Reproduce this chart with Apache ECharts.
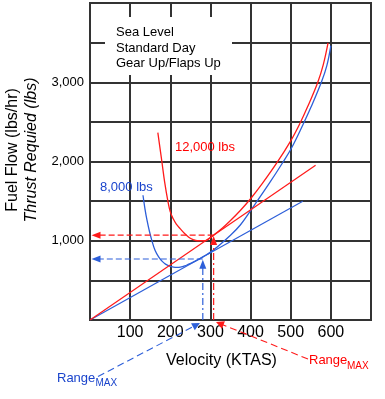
<!DOCTYPE html>
<html><head><meta charset="utf-8">
<script src="https://cdn.jsdelivr.net/npm/echarts@6/dist/echarts.min.js"></script>
<style>html,body{margin:0;padding:0;background:#fff}#c{width:385px;height:399px}</style>
</head><body><div id="c"></div>
<script>
const FONT = '"Liberation Sans", Arial, Helvetica, sans-serif';
// [velocity KTAS, fuel flow / thrust required]
const thrust8000 = [[132,1574],[137,1400],[142,1259],[148,1120],[154,1005],[162,880],[171,797],[180,740],[188,705],[198,680],[208,668],[217,665],[225,668],[236,683],[246,705],[257,730],[267,756],[281,797],[304,869],[350,1070],[375,1202],[400,1380],[446,1720],[481,1994],[502,2170],[531,2470],[550,2680],[577,3010],[590,3210],[600,3463]];
const thrust12000 = [[169,2364],[179,2000],[186,1740],[194,1500],[200,1364],[207,1280],[215,1210],[225,1150],[235,1095],[246,1045],[257,1015],[267,1000],[287,1000],[298,1030],[308,1070],[330,1160],[350,1255],[375,1385],[400,1530],[429,1720],[467,1994],[500,2260],[522,2470],[542,2690],[567,2994],[581,3220],[593,3497]];
const tangent8000 = [[0,0],[530,1499]];
const tangent12000 = [[0,0],[562,1952]];
const rangeMax8000 = [281, 770];
const rangeMax12000 = [308, 1070];
const xTickLabels = ['100','200','300','400','500','600'];
const yTickLabels = ['1,000','2,000','3,000'];
const conditions = ['Sea Level','Standard Day','Gear Up/Flaps Up'];
const weightLabels = ['8,000 lbs','12,000 lbs'];

const RED = '#ff1a1a', BLUE = '#2d5fd9', BLUE_T = '#1a44cc', RED_T = '#ff0000';

function curve(data, color) {
  return {type:'line', data, smooth:0.4, symbol:'none', silent:true,
    lineStyle:{color, width:1.3}, z:4};
}
function straight(data, color) {
  return {type:'line', data, symbol:'none', silent:true, lineStyle:{color, width:1.2}, z:4};
}
function arrowLine(from, to, color, dash, rot) {
  return {type:'line', symbol:'triangle', silent:true, z:5,
    data:[{value:from, symbol:'none'}, {value:to, symbol:'triangle', symbolSize:[7,9], symbolRotate:rot}],
    lineStyle:{color, width:1.2, type:dash}, itemStyle:{color}};
}
const ARROW_OFF = 66; // arrowhead centre just below the level line
const series = [
  curve(thrust8000, BLUE), curve(thrust12000, RED),
  straight(tangent8000, BLUE), straight(tangent12000, RED),
  arrowLine([rangeMax12000[0], rangeMax12000[1]], [15, rangeMax12000[1]], RED, [6,3], 90),
  arrowLine([rangeMax8000[0], rangeMax8000[1]], [15, rangeMax8000[1]], BLUE, [6,3], 90),
  arrowLine([rangeMax12000[0], 0], [rangeMax12000[0], rangeMax12000[1]-ARROW_OFF], RED, [7,3,2,3], 0),
  arrowLine([rangeMax8000[0], 0], [rangeMax8000[0], rangeMax8000[1]-ARROW_OFF], BLUE, [7,3,2,3], 0)
];

function arrowHead(tip, from, color, len, half) {
  const dx = tip[0]-from[0], dy = tip[1]-from[1], d = Math.hypot(dx,dy);
  const ux = dx/d, uy = dy/d, bx = tip[0]-ux*len, by = tip[1]-uy*len;
  return {type:'polygon', z:100, silent:true,
    shape:{points:[tip, [bx-uy*half, by+ux*half], [bx+uy*half, by-ux*half]]}, style:{fill:color}};
}
function txt(x, y, text, opts) {
  return Object.assign({type:'text', x, y, z:100, silent:true,
    style:Object.assign({text, fill:'#000', font:'13px ' + FONT, align:'left', verticalAlign:'middle'}, opts && opts.style || {})},
    opts && opts.rotation !== undefined ? {rotation:opts.rotation} : {});
}
const blueFrom = [98,376.5], blueTip = [200,323];
const redFrom = [308,359], redTip = [216,322];
const graphics = [
  {type:'rect', z:90, silent:true, shape:{x:105, y:17, width:127, height:58}, style:{fill:'#fff'}},
  txt(116, 32, conditions[0]), txt(116, 48, conditions[1]), txt(116, 63.5, conditions[2]),
  txt(100, 187, weightLabels[0], {style:{fill:BLUE_T}}),
  txt(175, 147, weightLabels[1], {style:{fill:RED_T}}),
  txt(13, 150, 'Fuel Flow (lbs/hr)', {rotation:Math.PI/2, style:{font:'16px ' + FONT, align:'center'}}),
  txt(32, 150, 'Thrust Requied (lbs)', {rotation:Math.PI/2, style:{font:'italic 16px ' + FONT, align:'center'}}),
  txt(221.5, 361, 'Velocity (KTAS)', {style:{font:'16px ' + FONT, align:'center'}}),
  {type:'line', z:100, silent:true, shape:{x1:blueFrom[0], y1:blueFrom[1], x2:blueTip[0]-6, y2:blueTip[1]+3.2},
    style:{stroke:BLUE, lineWidth:1.1, lineDash:[7,4]}},
  arrowHead(blueTip, blueFrom, BLUE, 8, 4),
  {type:'line', z:100, silent:true, shape:{x1:redFrom[0], y1:redFrom[1], x2:redTip[0]+6, y2:redTip[1]+2.4},
    style:{stroke:RED, lineWidth:1.1, lineDash:[7,4]}},
  arrowHead(redTip, redFrom, RED, 8, 4),
  txt(57, 378, 'Range', {style:{fill:BLUE_T, font:'13px ' + FONT}}),
  txt(95.5, 383.5, 'MAX', {style:{fill:BLUE_T, font:'10px ' + FONT}}),
  txt(309, 360.5, 'Range', {style:{fill:RED_T, font:'13px ' + FONT}}),
  txt(347, 366, 'MAX', {style:{fill:RED_T, font:'10px ' + FONT}})
];

const chart = echarts.init(document.getElementById('c'), null, {renderer:'canvas'});
chart.setOption({
  animation:false,
  backgroundColor:'#fff',
  grid:{left:90, right:14, top:3, bottom:79, show:true, borderColor:'#333', borderWidth:2, outerBoundsMode:'none'},
  xAxis:{type:'value', min:0, max:700, interval:100,
    axisLine:{show:false}, axisTick:{show:false},
    splitLine:{show:true, lineStyle:{color:'#333', width:2}},
    axisLabel:{margin:5, color:'#000', fontSize:16, fontFamily:FONT,
      formatter:v => (v%100===0 && v/100>=1 && v/100<=xTickLabels.length) ? xTickLabels[v/100-1] : ''}},
  yAxis:{type:'value', min:0, max:4000, interval:500,
    axisLine:{show:false}, axisTick:{show:false},
    splitLine:{show:true, lineStyle:{color:'#333', width:2}},
    axisLabel:{margin:6, color:'#000', fontSize:13, fontFamily:FONT,
      formatter:v => (v%1000===0 && v/1000>=1 && v/1000<=yTickLabels.length) ? yTickLabels[v/1000-1] : ''}},
  series,
  graphic:{elements:graphics}
});
</script></body></html>
